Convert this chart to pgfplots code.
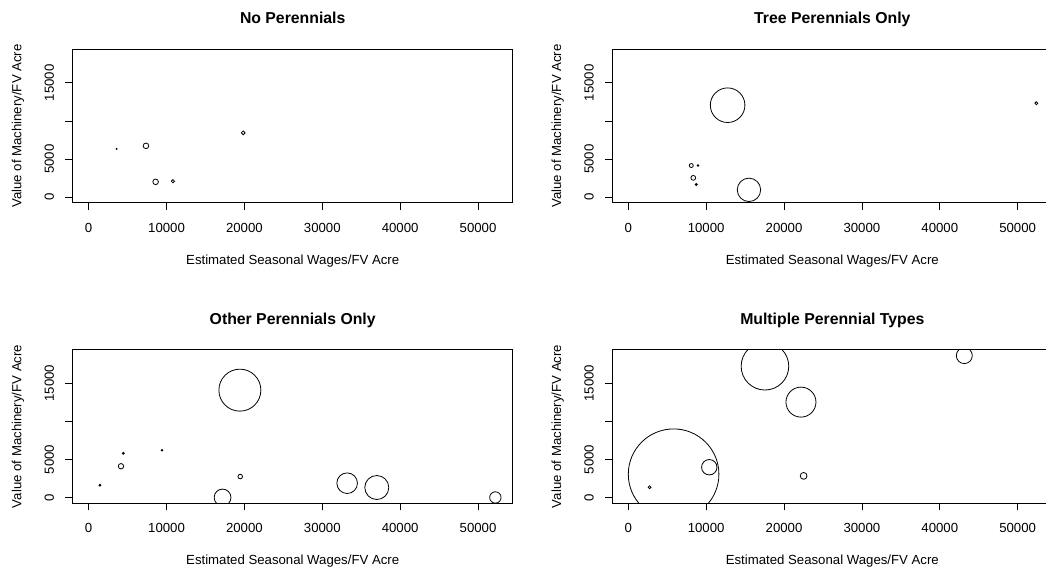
\documentclass[border=0pt]{standalone}
\usepackage{fontspec}
\setmainfont{Liberation Sans}
\usepackage{pgfplots}
\pgfplotsset{compat=1.18}
\usepackage{pgfplotstable}

\pgfplotstableread{
x y r
3593 6341 0.5
7357 6735 2.8
8597 2012 2.8
10821 2099 1.6
19846 8440 1.9
}\tabA
\pgfplotstableread{
x y r
12757 12070 17.3
52397 12333 1.5
8091 4155 2.0
8947 4155 0.8
8348 2537 2.4
8733 1662 1.0
15497 962 11.7
}\tabB
\pgfplotstableread{
x y r
19418 14084 21.0
4448 5799 1.0
9410 6192 0.8
4149 4099 2.7
1454 1613 1.0
19461 2747 2.3
17194 0 8.4
33191 1875 10.3
36997 1308 12.0
52224 0 5.7
}\tabC
\pgfplotstableread{
x y r
5822 3052 45.3
2740 1352 1.4
10402 3968 7.7
22517 2834 3.4
17551 17224 23.8
22175 12514 15.0
43151 18619 8.0
}\tabD

\pgfplotsset{
  panel/.style={
    scale only axis, width=440pt, height=153.7pt, anchor=south west,
    xmin=-2050, xmax=54450, ymin=-750, ymax=19420,
    enlargelimits=false,
    scaled ticks=false,
    axis line style={black, line width=0.8pt},
    tick style={black, line width=0.8pt},
    major tick length=7.3pt,
    tick align=outside,
    xtick pos=bottom, ytick pos=left,
    xtick={0,10000,20000,30000,40000,50000},
    xticklabels={0,10000,20000,30000,40000,50000},
    ytick={0,5000,10000,15000},
    yticklabels={0,5000,,15000},
    every tick label/.append style={font=\fontsize{13.2}{15}\selectfont},
    xticklabel style={anchor=base, inner sep=0pt},
    yticklabel style={rotate=90, anchor=base, inner sep=0pt},
    xticklabel shift=22.4pt,
    yticklabel shift=11.5pt,
    xlabel={Estimated Seasonal Wages/FV Acre},
    ylabel={Value of Machinery/FV Acre},
    xlabel style={at={(axis description cs:0.5,-0.399)}, anchor=base, font=\fontsize{13.2}{15}\selectfont, inner sep=0pt},
    ylabel style={at={(axis description cs:-0.1166,0.5)}, rotate=0, anchor=base, font=\fontsize{13.2}{15}\selectfont, inner sep=0pt},
    title style={at={(axis description cs:0.5,1.126)}, anchor=base, font=\bfseries\fontsize{15.8}{18}\selectfont, inner sep=0pt},
    clip marker paths=true,
  },
  bubbles/.style={
    scatter, only marks, mark=o,
    scatter/use mapped color={draw=black, fill=none},
    mark options={line width=0.8pt},
    visualization depends on={\thisrow{r} \as \rad},
    scatter/@pre marker code/.append style={/tikz/mark size=\rad pt},
  },
}

\begin{document}
\begin{tikzpicture}
\useasboundingbox (0,0) rectangle (1046pt,569pt);
\begin{axis}[panel, at={(72.7pt,366.1pt)}, title={No Perennials}]
\addplot[bubbles] table[x=x, y=y, meta=r]{\tabA};
\end{axis}
\begin{axis}[panel, at={(612.3pt,366.1pt)}, title={Tree Perennials Only}]
\addplot[bubbles] table[x=x, y=y, meta=r]{\tabB};
\end{axis}
\begin{axis}[panel, at={(72.7pt,65.8pt)}, title={Other Perennials Only}]
\addplot[bubbles] table[x=x, y=y, meta=r]{\tabC};
\end{axis}
\begin{axis}[panel, at={(612.3pt,65.8pt)}, title={Multiple Perennial Types}]
\addplot[bubbles] table[x=x, y=y, meta=r]{\tabD};
\end{axis}
\end{tikzpicture}
\end{document}
